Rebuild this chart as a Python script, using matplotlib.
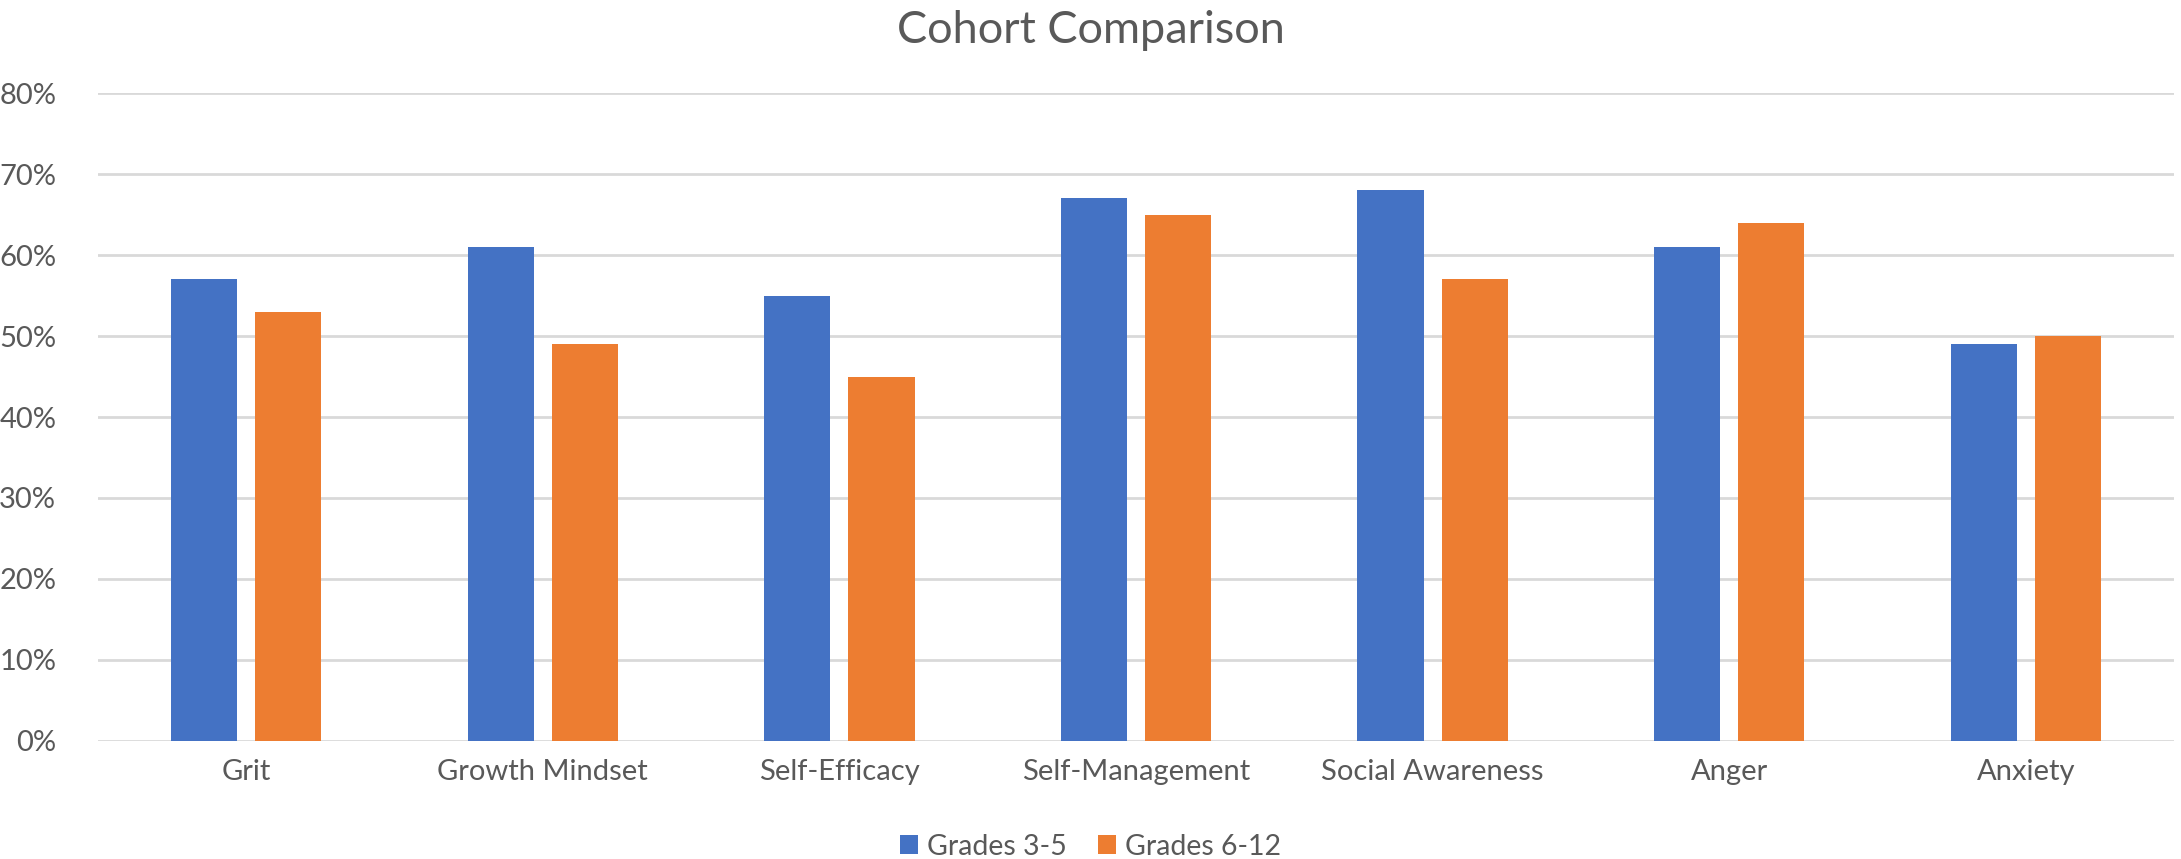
import matplotlib.pyplot as plt
import numpy as np
from matplotlib.ticker import PercentFormatter

categories = ["Grit", "Growth Mindset", "Self-Efficacy", "Self-Management",
              "Social Awareness", "Anger", "Anxiety"]
grades_3_5 = [0.57, 0.61, 0.55, 0.67, 0.68, 0.61, 0.49]
grades_6_12 = [0.53, 0.49, 0.45, 0.65, 0.57, 0.64, 0.50]

plt.rcParams["font.family"] = ["Lato", "DejaVu Sans"]
grey = "#595959"

fig = plt.figure(figsize=(21.81, 8.59), dpi=100)
ax = fig.add_axes([0.0449, 0.1374, 0.9519, 0.7543])

x = np.arange(len(categories))
w = 0.223
ax.bar(x - 0.142, grades_3_5, w, color="#4472C4", label="Grades 3-5", zorder=3)
ax.bar(x + 0.142, grades_6_12, w, color="#ED7D31", label="Grades 6-12", zorder=3)

ax.set_xlim(-0.5, len(categories) - 0.5)
ax.set_ylim(0, 0.8)
ax.set_yticks(np.arange(0, 0.81, 0.1))
ax.yaxis.set_major_formatter(PercentFormatter(1.0, decimals=0))
ax.set_xticks(x)
ax.set_xticklabels(categories)
ax.grid(axis="y", color="#D9D9D9", linewidth=2, zorder=0)
for s in ax.spines.values():
    s.set_visible(False)
ax.tick_params(axis="both", length=0, labelsize=21, colors=grey)
ax.tick_params(axis="y", pad=30)
ax.tick_params(axis="x", pad=13)

fig.text(0.5, 0.964, "Cohort Comparison", ha="center", va="center",
         fontsize=32.5, color=grey)

leg = fig.legend(loc="center", bbox_to_anchor=(0.5, 0.014), ncol=2, frameon=False,
                 fontsize=20.5, handlelength=0.65, handleheight=0.65,
                 handletextpad=0.3, columnspacing=1.1, borderpad=0.2)
for t in leg.get_texts():
    t.set_color(grey)

fig.savefig("out.png", dpi=100)
